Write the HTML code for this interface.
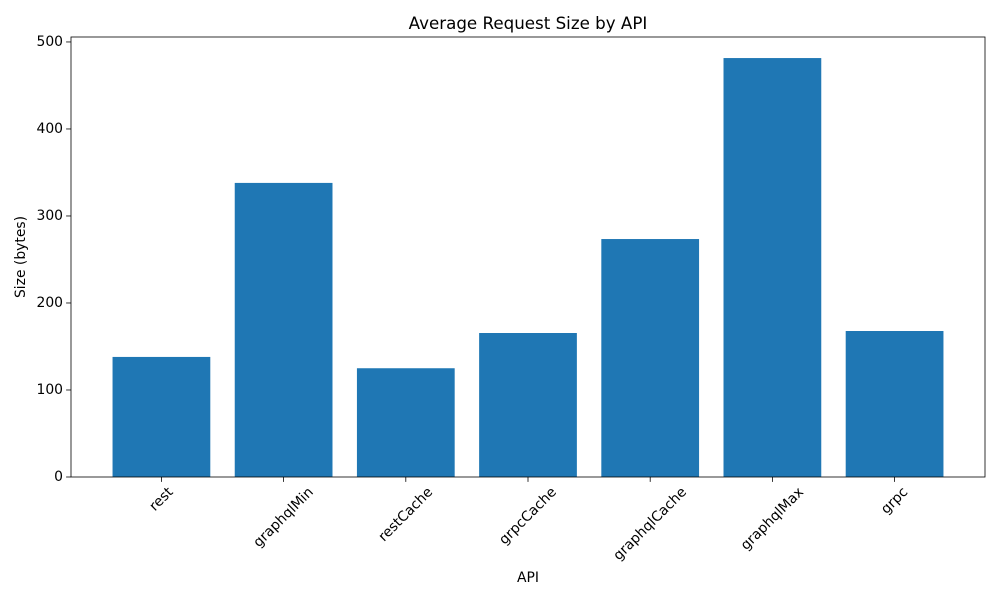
<!DOCTYPE html>
<html><head><meta charset="utf-8"><style>
body{margin:0;background:#fff}
svg{display:block;font-family:"DejaVu Sans","Liberation Sans",sans-serif}
</style></head><body>
<svg id="chart" width="1000" height="600"></svg>
<script>
const categories=["rest","graphqlMin","restCache","grpcCache","graphqlCache","graphqlMax","grpc"];
const values=[138,338,125,165.5,273.5,481.5,167.8];
const yTicks=[0,100,200,300,400,500];
const NS="http://www.w3.org/2000/svg";
const svg=document.getElementById('chart');
const L=71,R=985,T=37,B=477;
const xMin=-0.74,xMax=6.74,yMax=505.7;
const FS=13.9;
const xs=v=>L+(v-xMin)/(xMax-xMin)*(R-L);
const ys=v=>B-v/yMax*(B-T);
function mk(tag,attrs,txt){const e=document.createElementNS(NS,tag);for(const k in attrs)e.setAttribute(k,attrs[k]);if(txt!==undefined)e.textContent=txt;svg.appendChild(e);return e;}
categories.forEach((c,i)=>{
  const bw=0.8*(R-L)/(xMax-xMin);
  const b=mk('rect',{x:xs(i)-bw/2,y:ys(values[i]),width:bw,height:B-ys(values[i]),fill:'#1f77b4'});
  
  
  const tk=mk('line',{x1:xs(i),x2:xs(i),y1:B,y2:B+4.9,stroke:'#000','stroke-width':0.8});
  
  
  const t=mk('text',{'font-size':FS,'text-anchor':'middle','dominant-baseline':'central'},c);
  const len=t.getComputedTextLength();
  const cy=B+8+(len+FS)*0.3536;
  t.setAttribute('transform',`translate(${xs(i)},${cy}) rotate(-45)`);
  
  
});
yTicks.forEach(v=>{
  const tk=mk('line',{x1:L-4.9,x2:L,y1:ys(v),y2:ys(v),stroke:'#000','stroke-width':0.8});
  
  
  const t=mk('text',{x:L-8,y:ys(v),'font-size':FS,'text-anchor':'end','dominant-baseline':'central'},v);
  
  
});
const fr=mk('rect',{x:L,y:T,width:R-L,height:B-T,fill:'none',stroke:'#000','stroke-width':0.8});


const ti=mk('text',{x:(L+R)/2,y:29,'font-size':16.7,'text-anchor':'middle'},'Average Request Size by API');


const xl=mk('text',{x:(L+R)/2,y:582,'font-size':FS,'text-anchor':'middle'},'API');


const yl=mk('text',{x:0,y:0,'font-size':FS,'text-anchor':'middle',transform:`translate(25,${(T+B)/2}) rotate(-90)`},'Size (bytes)');


</script>
</body></html>
